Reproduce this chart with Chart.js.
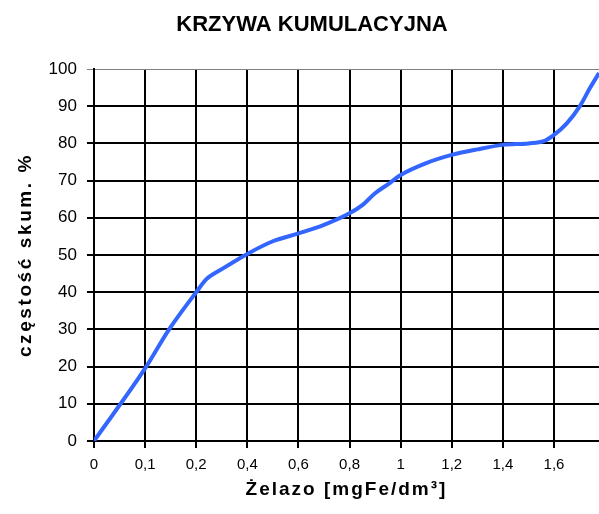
<!DOCTYPE html>
<html>
<head>
<meta charset="utf-8">
<script src="https://cdn.jsdelivr.net/npm/chart.js@4/dist/chart.umd.min.js"></script>
<style>
  html, body { margin: 0; padding: 0; background: #fff; }
  #wykres { display: block; }
</style>
</head>
<body>
<canvas id="wykres" width="599" height="514"></canvas>
<script>
// Oś X jest kategoryczna (równe odstępy mimo nierównych wartości) — pozycje to indeksy kategorii.
const etykietyX = ['0', '0,1', '0,2', '0,4', '0,6', '0,8', '1', '1,2', '1,4', '1,6'];
const pozycjeKrzywej = [0, 1, 1.47, 2, 2.2, 2.5, 3, 3.5, 4, 4.5, 5, 5.25, 5.5, 5.75, 6, 6.5, 7, 7.5, 8, 8.5, 8.8, 9, 9.25, 9.5, 9.7, 9.88];
const czestoscSkum = [0, 19.5, 30, 40, 43.5, 46.2, 50.3, 53.7, 55.8, 58.1, 61.2, 63.4, 66.6, 69, 71.5, 74.7, 76.9, 78.4, 79.6, 80, 80.6, 82.3, 85.4, 89.9, 94.8, 98.9];
const tickiY = [0, 10, 20, 30, 40, 50, 60, 70, 80, 90, 100];

const FONT = '"Liberation Sans", Arial, sans-serif';

// tytuł wykresu jest w oryginale lekko przesunięty w prawo,
// a tytuły osi mają rozstrzelone litery (jak w Excelu)
const poprawkiTekstu = {
  id: 'poprawkiTekstu',
  afterLayout(c) {
    if (c.titleBlock) c.titleBlock.left += 25;
    [['x', '2px'], ['y', '2.6px']].forEach(([id, odstep]) => {
      const s = c.scales[id];
      if (!s || s._rozstrzelony) return;
      const oryg = s.drawTitle;
      s.drawTitle = function () {
        const ctx = this.ctx;
        ctx.save();
        ctx.letterSpacing = odstep;
        oryg.call(this);
        ctx.restore();
      };
      s._rozstrzelony = true;
    });
  },
};

new Chart(document.getElementById('wykres'), {
  type: 'line',
  data: {
    datasets: [{
      data: pozycjeKrzywej.map((x, i) => ({ x, y: czestoscSkum[i] })),
      borderColor: '#3366ff',
      borderWidth: 4,
      pointRadius: 0,
      cubicInterpolationMode: 'monotone',
      fill: false,
    }],
  },
  options: {
    responsive: false,
    animation: false,
    devicePixelRatio: 1,
    layout: { padding: 0 },
    plugins: {
      legend: { display: false },
      tooltip: { enabled: false },
      title: {
        display: true,
        text: 'KRZYWA KUMULACYJNA',
        color: '#000',
        font: { family: FONT, size: 22, weight: 'bold' },
        padding: { top: 12, bottom: 30.6 },
      },
    },
    scales: {
      x: {
        type: 'linear',
        min: 0,
        max: 9.88,
        afterBuildTicks: (s) => { s.ticks = etykietyX.map((_, i) => ({ value: i })); },
        ticks: {
          color: '#000',
          font: { family: FONT, size: 15, lineHeight: 1 },
          padding: 9,
          maxRotation: 0,
          callback: (v) => etykietyX[v],
        },
        grid: { color: '#000', lineWidth: 2, tickLength: 7 },
        border: { color: '#000', width: 2 },
        title: {
          display: true,
          text: 'Żelazo [mgFe/dm³]',
          color: '#000',
          font: { family: FONT, size: 19, weight: 'bold', lineHeight: 0.9 },
          padding: { top: 0.45, bottom: 15.45 },
        },
      },
      y: {
        min: 0,
        max: 100,
        afterBuildTicks: (s) => { s.ticks = tickiY.map(v => ({ value: v })); },
        ticks: {
          color: '#000',
          font: { family: FONT, size: 17 },
          padding: 10,
        },
        grid: {
          color: (c) => c.tick && c.tick.value === 100 ? '#808080' : '#000',
          lineWidth: (c) => c.tick && c.tick.value === 100 ? 1 : 2,
          tickLength: 7,
        },
        border: { color: '#000', width: 2 },
        title: {
          display: true,
          text: 'częstość skum. %',
          color: '#000',
          font: { family: FONT, size: 19, weight: 'bold' },
          padding: { top: 14.6, bottom: 1.2 },
        },
      },
    },
  },
  plugins: [poprawkiTekstu],
});
</script>
</body>
</html>
